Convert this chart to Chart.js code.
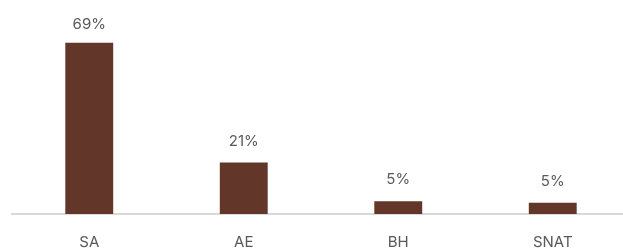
<!DOCTYPE html>
<html>
<head>
<meta charset="utf-8">
<script src="https://cdn.jsdelivr.net/npm/chart.js@4/dist/chart.umd.min.js"></script>
<style>
  html, body { margin:0; padding:0; background:#fff; overflow:hidden; }
  #wrap { width:630px; height:248px; }
</style>
</head>
<body>
<div id="wrap"><canvas id="c" width="630" height="248"></canvas></div>
<script>
/* ============================
   Share by market
============================ */
const markets = ['SA', 'AE', 'BH', 'SNAT'];
const shares  = [69, 20.7, 5.1, 4.5];   // percent

const barColor = '#62372A';
const textColor = '#595959';
const fontFamily = 'Inter, "Noto Sans", sans-serif';

// draw "NN%" above each bar, no datalabels plugin offline
const valueLabels = {
  id: 'valueLabels',
  afterDatasetsDraw(chart){
    const ctx = chart.ctx;
    const meta = chart.getDatasetMeta(0);
    ctx.save();
    ctx.font = '15px ' + fontFamily;
    ctx.fillStyle = textColor;
    ctx.textAlign = 'center';
    ctx.textBaseline = 'alphabetic';
    meta.data.forEach((bar, i) => {
      const y = Math.max(bar.y - 17, 29);
      ctx.fillText(Math.round(shares[i]) + '%', bar.x, y);
    });
    ctx.restore();
  }
};

new Chart(document.getElementById('c').getContext('2d'), {
  type: 'bar',
  data: {
    labels: markets,
    datasets: [{ data: shares, backgroundColor: barColor, borderWidth: 0,
                 categoryPercentage: 1, barPercentage: 0.31 }]
  },
  options: {
    responsive: false,
    animation: false,
    layout: { padding: { left: 12, right: 0, top: 0, bottom: 0 } },
    plugins: { legend: { display: false }, tooltip: { enabled: false } },
    scales: {
      x: {
        grid: { display: false },
        border: { display: true, color: '#d9d9d9', width: 2 },
        ticks: { color: textColor, padding: 13, font: { family: fontFamily, size: 15, lineHeight: 1 } },
        afterFit(scale){ scale.height = 34; }
      },
      y: { display: false, min: 0, max: 86.2 }
    }
  },
  plugins: [valueLabels]
});
</script>
</body>
</html>
